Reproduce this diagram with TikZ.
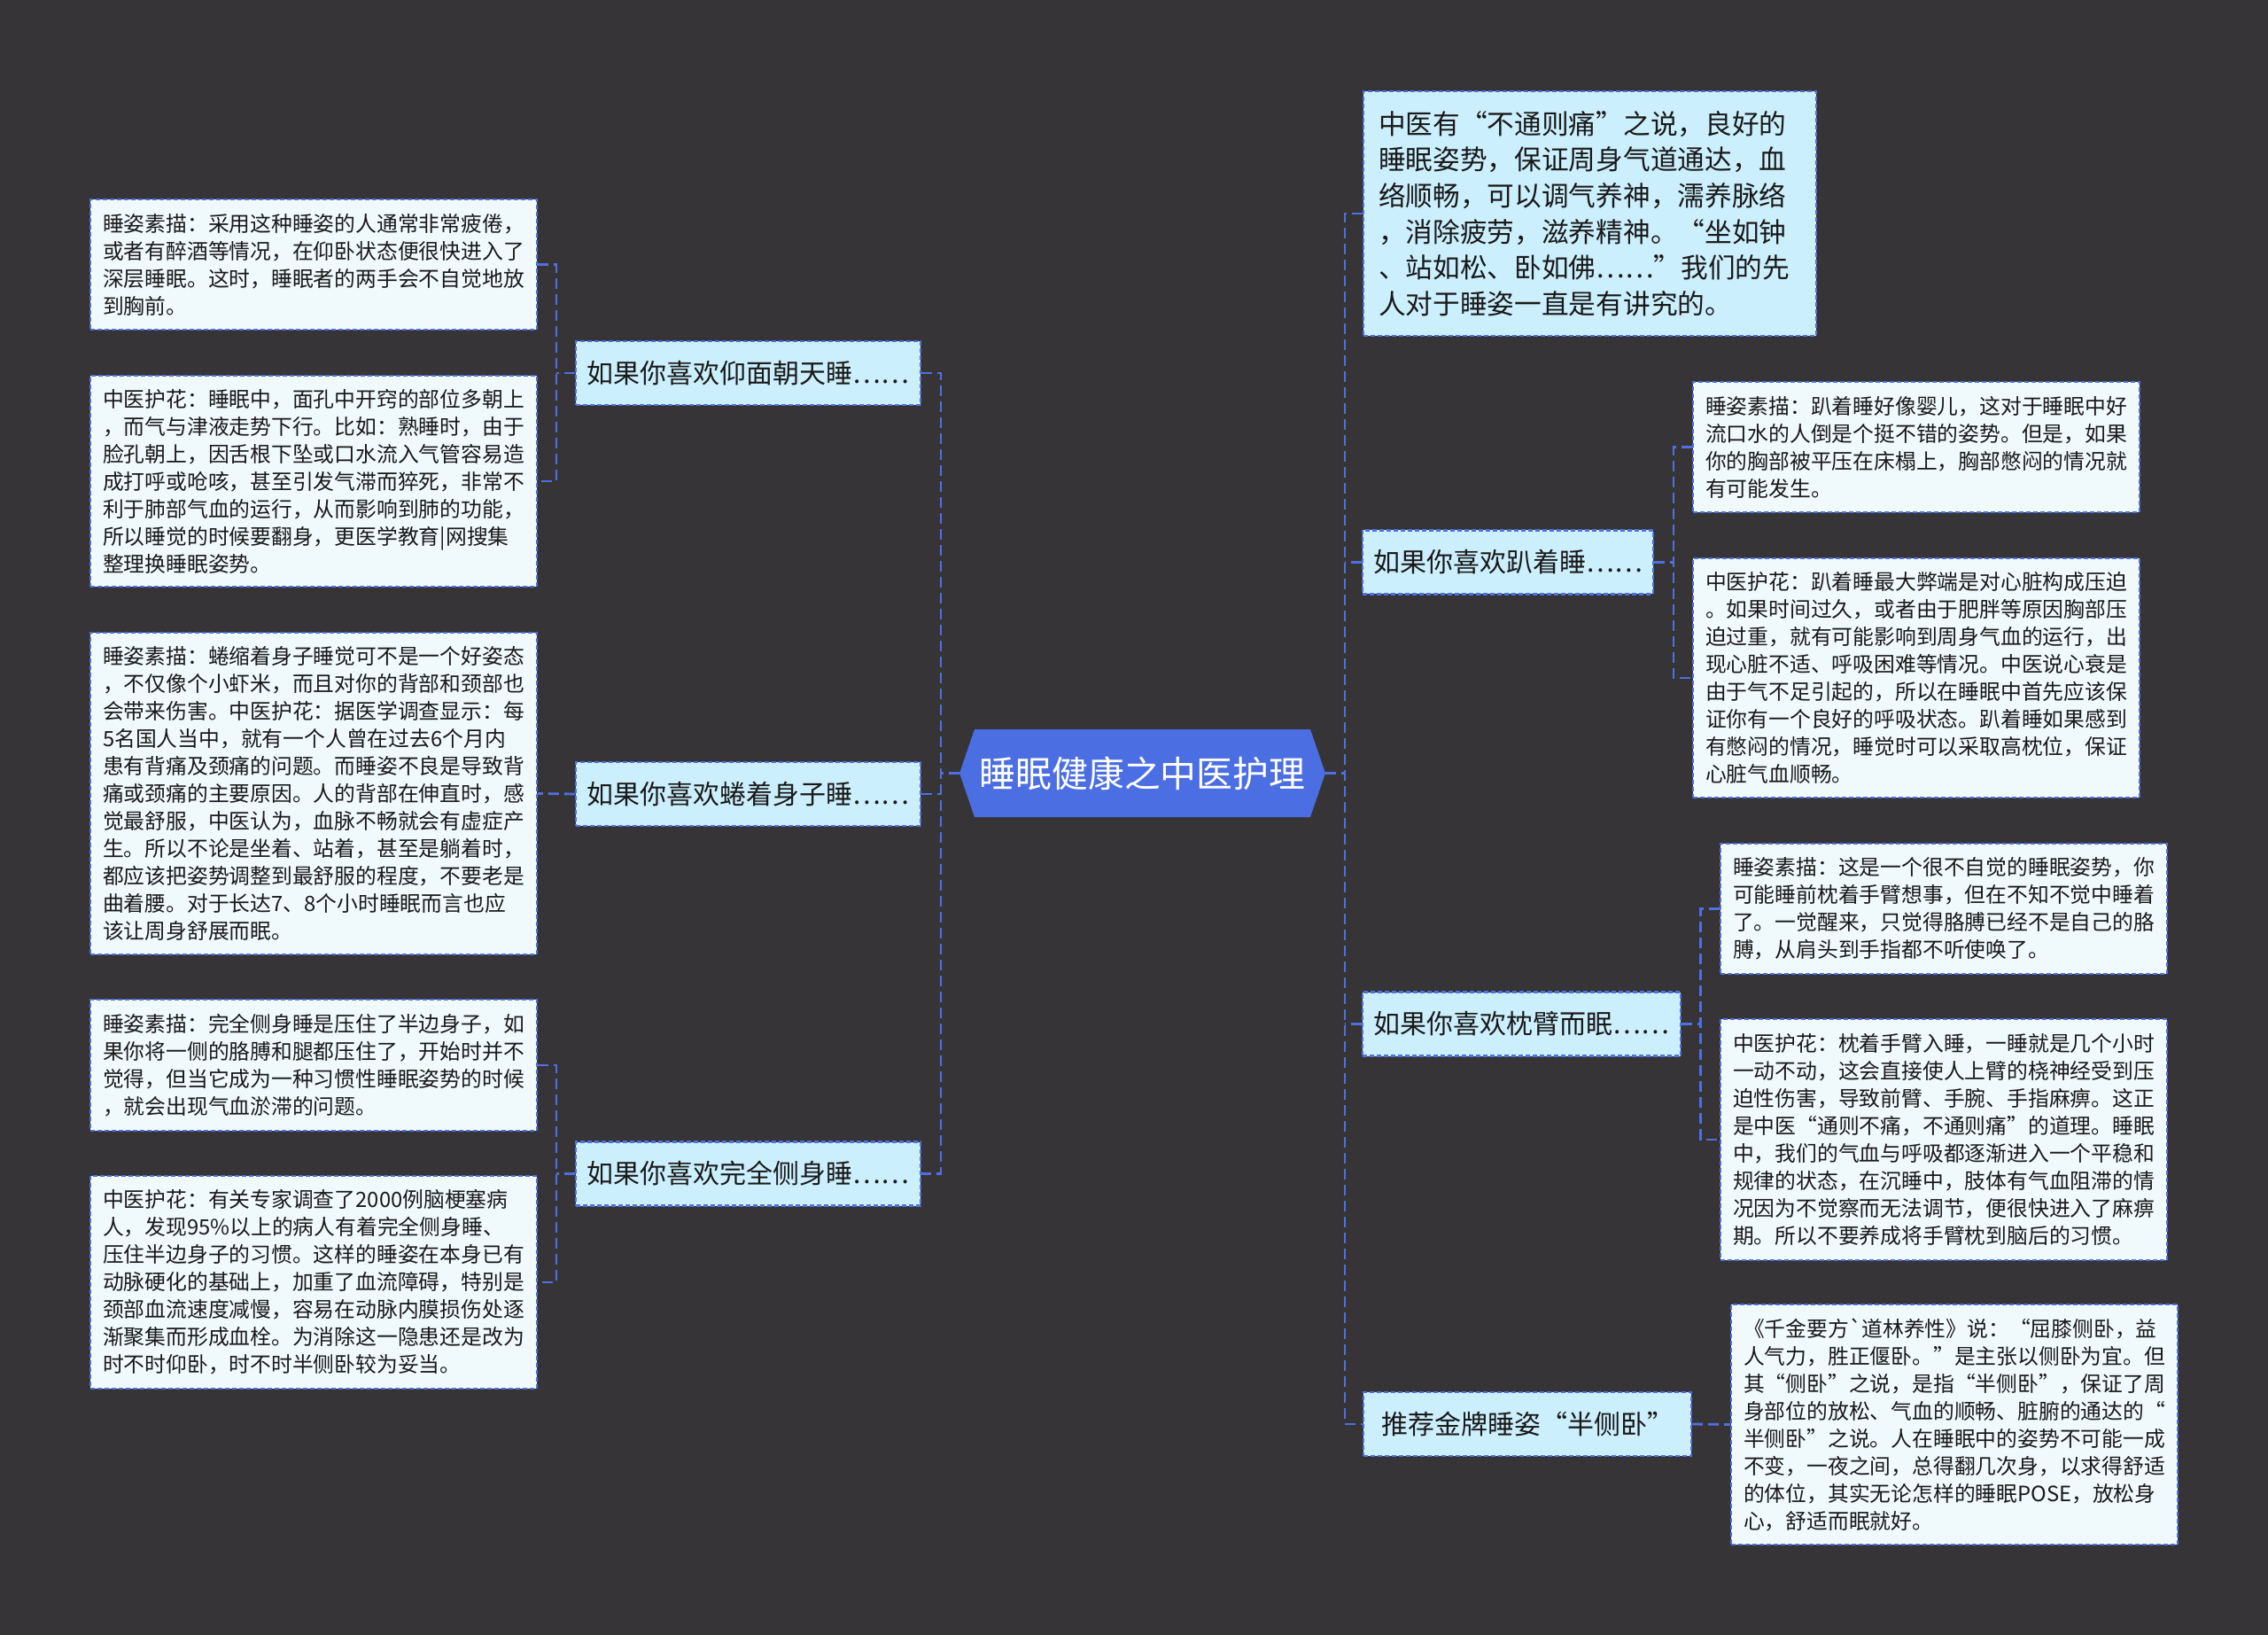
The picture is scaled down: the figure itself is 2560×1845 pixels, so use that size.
\documentclass[tikz,border=0pt]{standalone}
\usepackage{fontspec}
\newfontfamily\cjk{Noto Sans CJK SC}
\usetikzlibrary{calc}
\definecolor{bg}{RGB}{54,52,54}
\definecolor{rootblue}{RGB}{75,110,226}
\definecolor{lineblue}{RGB}{78,112,224}
\definecolor{topicfill}{RGB}{204,239,253}
\definecolor{leaffill}{RGB}{240,250,253}
\definecolor{txt}{RGB}{25,25,25}
\begin{document}
\begin{tikzpicture}[x=0.5pt,y=-0.5pt,
  box/.style={draw=lineblue, line width=1.2pt, dash pattern=on 2.5pt off 1.5pt,
    inner ysep=0pt, anchor=center, text=txt},
  leaf/.style={box, fill=leaffill, inner xsep=7pt, text width=238pt, align=left,
    font=\cjk\fontsize{11.9pt}{15.5pt}\selectfont},
  topic/.style={box, fill=topicfill, inner xsep=6pt, minimum height=36pt,
    font=\cjk\fontsize{15pt}{20pt}\selectfont},
  bigtopic/.style={box, fill=topicfill, inner xsep=8.5pt, text width=238.5pt, align=left,
    minimum height=138pt, font=\cjk\fontsize{15.35pt}{20.35pt}\selectfont},
  rootnode/.style={minimum width=206.5pt, minimum height=49.5pt, inner sep=0pt,
    text=white, font=\cjk\fontsize{20.4pt}{24pt}\selectfont},
  conn/.style={draw=lineblue, line width=1.4pt, dash pattern=on 6pt off 3pt},
]
\fill[bg] (0,0) rectangle (2560,1845);
\useasboundingbox (0,0) rectangle (2560,1845);

% root
\fill[rootblue] (1083,872.5) -- (1100,823) -- (1479,823) -- (1496,872.5) -- (1479,922) -- (1100,922) -- cycle;
\node[rootnode] (root) at (1289.5,872.5) {睡眠健康之中医护理};

% left topics
\node[topic, minimum width=194.5pt] (L1) at (844.5,421) {如果你喜欢仰面朝天睡……};
\node[topic, minimum width=194.5pt] (L2) at (844.5,896) {如果你喜欢蜷着身子睡……};
\node[topic, minimum width=194.5pt] (L3) at (844.5,1324.5) {如果你喜欢完全侧身睡……};

% right topics
\node[bigtopic] (R0) at (1794.5,241) {中医有“不通则痛”之说，良好的\\
睡眠姿势，保证周身气道通达，血\\
络顺畅，可以调气养神，濡养脉络\\
，消除疲劳，滋养精神。“坐如钟\\
、站如松、卧如佛……”我们的先\\
人对于睡姿一直是有讲究的。};
\node[topic, minimum width=164pt] (R1) at (1702,634.5) {如果你喜欢趴着睡……};
\node[topic, minimum width=179.5pt] (R2) at (1717.5,1155.5) {如果你喜欢枕臂而眠……};
\node[topic, minimum width=185pt] (R3) at (1724,1607) {推荐金牌睡姿“半侧卧”};

% left leaves
\node[leaf, minimum height=73.5pt] (LL1a) at (354,298.5) {睡姿素描：采用这种睡姿的人通常非常疲倦，\\
或者有醉酒等情况，在仰卧状态便很快进入了\\
深层睡眠。这时，睡眠者的两手会不自觉地放\\
到胸前。};
\node[leaf, minimum height=119pt] (LL1b) at (354,543) {中医护花：睡眠中，面孔中开窍的部位多朝上\\
，而气与津液走势下行。比如：熟睡时，由于\\
脸孔朝上，因舌根下坠或口水流入气管容易造\\
成打呼或呛咳，甚至引发气滞而猝死，非常不\\
利于肺部气血的运行，从而影响到肺的功能，\\
所以睡觉的时候要翻身，更医学教育|网搜集\\
整理换睡眠姿势。};
\node[leaf, minimum height=181.5pt] (LL2) at (354,895.5) {睡姿素描：蜷缩着身子睡觉可不是一个好姿态\\
，不仅像个小虾米，而且对你的背部和颈部也\\
会带来伤害。中医护花：据医学调查显示：每\\
5名国人当中，就有一个人曾在过去6个月内\\
患有背痛及颈痛的问题。而睡姿不良是导致背\\
痛或颈痛的主要原因。人的背部在伸直时，感\\
觉最舒服，中医认为，血脉不畅就会有虚症产\\
生。所以不论是坐着、站着，甚至是躺着时，\\
都应该把姿势调整到最舒服的程度，不要老是\\
曲着腰。对于长达7、8个小时睡眠而言也应\\
该让周身舒展而眠。};
\node[leaf, minimum height=74pt] (LL3a) at (354,1202) {睡姿素描：完全侧身睡是压住了半边身子，如\\
果你将一侧的胳膊和腿都压住了，开始时并不\\
觉得，但当它成为一种习惯性睡眠姿势的时候\\
，就会出现气血淤滞的问题。};
\node[leaf, minimum height=120pt] (LL3b) at (354,1447) {中医护花：有关专家调查了2000例脑梗塞病\\
人，发现95\%以上的病人有着完全侧身睡、\\
压住半边身子的习惯。这样的睡姿在本身已有\\
动脉硬化的基础上，加重了血流障碍，特别是\\
颈部血流速度减慢，容易在动脉内膜损伤处逐\\
渐聚集而形成血栓。为消除这一隐患还是改为\\
时不时仰卧，时不时半侧卧较为妥当。};

% right leaves
\node[leaf, minimum height=73.5pt] (RL1a) at (2163,504.5) {睡姿素描：趴着睡好像婴儿，这对于睡眠中好\\
流口水的人倒是个挺不错的姿势。但是，如果\\
你的胸部被平压在床榻上，胸部憋闷的情况就\\
有可能发生。};
\node[leaf, minimum height=135pt] (RL1b) at (2163,765) {中医护花：趴着睡最大弊端是对心脏构成压迫\\
。如果时间过久，或者由于肥胖等原因胸部压\\
迫过重，就有可能影响到周身气血的运行，出\\
现心脏不适、呼吸困难等情况。中医说心衰是\\
由于气不足引起的，所以在睡眠中首先应该保\\
证你有一个良好的呼吸状态。趴着睡如果感到\\
有憋闷的情况，睡觉时可以采取高枕位，保证\\
心脏气血顺畅。};
\node[leaf, minimum height=73.5pt] (RL2a) at (2194,1025.5) {睡姿素描：这是一个很不自觉的睡眠姿势，你\\
可能睡前枕着手臂想事，但在不知不觉中睡着\\
了。一觉醒来，只觉得胳膊已经不是自己的胳\\
膊，从肩头到手指都不听使唤了。};
\node[leaf, minimum height=136pt] (RL2b) at (2194,1286) {中医护花：枕着手臂入睡，一睡就是几个小时\\
一动不动，这会直接使人上臂的桡神经受到压\\
迫性伤害，导致前臂、手腕、手指麻痹。这正\\
是中医“通则不痛，不通则痛”的道理。睡眠\\
中，我们的气血与呼吸都逐渐进入一个平稳和\\
规律的状态，在沉睡中，肢体有气血阻滞的情\\
况因为不觉察而无法调节，便很快进入了麻痹\\
期。所以不要养成将手臂枕到脑后的习惯。};
\node[leaf, minimum height=135.5pt] (RL3) at (2206,1607.5) {《千金要方`道林养性》说：“屈膝侧卧，益\\
人气力，胜正偃卧。”是主张以侧卧为宜。但\\
其“侧卧”之说，是指“半侧卧”，保证了周\\
身部位的放松、气血的顺畅、脏腑的通达的“\\
半侧卧”之说。人在睡眠中的姿势不可能一成\\
不变，一夜之间，总得翻几次身，以求得舒适\\
的体位，其实无论怎样的睡眠POSE，放松身\\
心，舒适而眠就好。};

% junction coordinates
\coordinate (lj) at (1062,872.5);
\coordinate (rj) at (1518,872.5);
\coordinate (l1j) at (628,421);
\coordinate (l3j) at (628,1324.5);
\coordinate (r1j) at (1889,634.5);
\coordinate (r2j) at (1919.5,1155.5);

% root to topics
\draw[conn] (root.west) -- (lj);
\draw[conn] (L1.east) -- (L1.east -| lj) -- (L3.east -| lj) -- (L3.east);
\draw[conn] (L2.east) -- (L2.east -| lj);
\draw[conn] (root.east) -- (rj);
\draw[conn] (R0.west) -- (R0.west -| rj) -- (R3.west -| rj) -- (R3.west);
\draw[conn] (R1.west) -- (R1.west -| rj);
\draw[conn] (R2.west) -- (R2.west -| rj);

% topics to leaves (left)
\draw[conn] (L1.west) -- (l1j);
\draw[conn] (LL1a.east) -- (LL1a.east -| l1j) -- (LL1b.east -| l1j) -- (LL1b.east);
\draw[conn] (L2.west) -- (LL2.east);
\draw[conn] (L3.west) -- (l3j);
\draw[conn] (LL3a.east) -- (LL3a.east -| l3j) -- (LL3b.east -| l3j) -- (LL3b.east);

% topics to leaves (right)
\draw[conn] (R1.east) -- (r1j);
\draw[conn] (RL1a.west) -- (RL1a.west -| r1j) -- (RL1b.west -| r1j) -- (RL1b.west);
\draw[conn] (R2.east) -- (r2j);
\draw[conn] (RL2a.west) -- (RL2a.west -| r2j) -- (RL2b.west -| r2j) -- (RL2b.west);
\draw[conn] (R3.east) -- (RL3.west);
\end{tikzpicture}
\end{document}
